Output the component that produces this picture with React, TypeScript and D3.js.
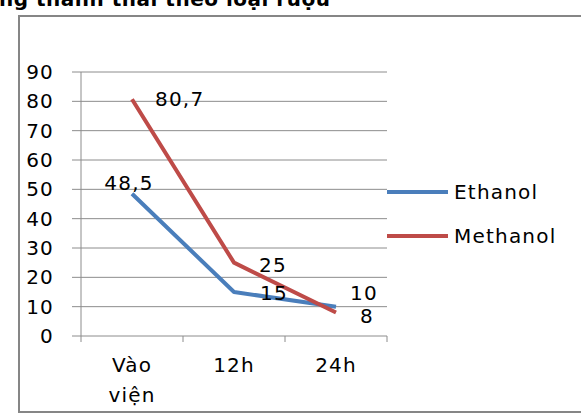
import React from "react";
import * as d3 from "d3";

const categories = ["Vào viện", "12h", "24h"];
const seriesNames = ["Ethanol", "Methanol"];
const ethanol = [48.5, 15, 10];
const methanol = [80.7, 25, 8];
const ethanolLabels = ["48,5", "15", "10"];
const methanolLabels = ["80,7", "25", "8"];
const yTicks = [0, 10, 20, 30, 40, 50, 60, 70, 80, 90];
const title = "ng thanh thải theo loại rượu";

const colors = ["#4a7ebb", "#be4b48"];
const FONT = "'DejaVu Sans', sans-serif";

// label offsets [dx, dy, anchor]
const ethOffsets: [number, number, string][] = [[-3, -11, "middle"], [26, 1, "start"], [14, -14, "start"]];
const metOffsets: [number, number, string][] = [[23, 0, "start"], [25, 2, "start"], [24, 3, "start"]];

export default function App() {
  const W = 581, H = 416;
  const left = 81, right = 387, top = 72, bottom = 336;
  const x = d3.scalePoint<string>().domain(categories).range([left, right]).padding(0.5);
  const y = d3.scaleLinear().domain([0, 90]).range([bottom, top]);
  const step = x.step();
  const line = d3.line<number>().x((_, i) => x(categories[i])!).y((d) => y(d));
  const series = [ethanol, methanol];
  const labels = [ethanolLabels, methanolLabels];
  const offsets = [ethOffsets, metOffsets];
  const boundaries = d3.range(categories.length + 1).map((i) => left + i * step);
  const fs = 20;
  const ls = 1.2;

  return (
    <svg width={W} height={H} style={{ position: "absolute", left: 0, top: 0 }} fontFamily={FONT}>
      <rect x={0} y={0} width={W} height={H} fill="#fff" />
      <text x={-1} y={6} fontSize={20} fontWeight="bold" fill="#000" letterSpacing={0.5}>{title}</text>
      <rect x={19} y={16} width={620} height={396} fill="none" stroke="#868686" strokeWidth={2} />
      {yTicks.map((t) => (
        <g key={t}>
          <line x1={left - 9} x2={right} y1={y(t)} y2={y(t)} stroke="#8c8c8c" strokeWidth={1} />
          <text x={54} y={y(t)} dy="0.35em" textAnchor="end" fontSize={fs} letterSpacing={ls} fill="#000">{t}</text>
        </g>
      ))}
      <line x1={left} x2={left} y1={top} y2={bottom} stroke="#8c8c8c" strokeWidth={1} />
      {boundaries.map((b, i) => (
        <line key={i} x1={b} x2={b} y1={bottom} y2={bottom + 6} stroke="#8c8c8c" strokeWidth={1} />
      ))}
      {categories.map((c) => {
        const parts = c.split(" ");
        return (
          <text key={c} x={x(c)} y={372} textAnchor="middle" fontSize={fs} letterSpacing={ls} fill="#000">
            {parts.map((p, i) => (
              <tspan key={i} x={x(c)} dy={i === 0 ? 0 : 30}>{p}</tspan>
            ))}
          </text>
        );
      })}
      {series.map((s, si) => (
        <path key={si} d={line(s)!} fill="none" stroke={colors[si]} strokeWidth={4} strokeLinejoin="round" />
      ))}
      {series.map((s, si) =>
        s.map((v, i) => {
          const [dx, dy, anchor] = offsets[si][i];
          return (
            <text key={si + "-" + i} x={x(categories[i])! + dx} y={y(v) + dy} dy="0.35em"
              textAnchor={anchor as any} fontSize={fs} letterSpacing={ls} fill="#000">{labels[si][i]}</text>
          );
        })
      )}
      {seriesNames.map((n, i) => (
        <g key={n}>
          <line x1={387} x2={448} y1={192 + i * 44} y2={192 + i * 44} stroke={colors[i]} strokeWidth={4} />
          <text x={454} y={192 + i * 44} dy="0.35em" fontSize={fs} letterSpacing={ls} fill="#000">{n}</text>
        </g>
      ))}
    </svg>
  );
}
